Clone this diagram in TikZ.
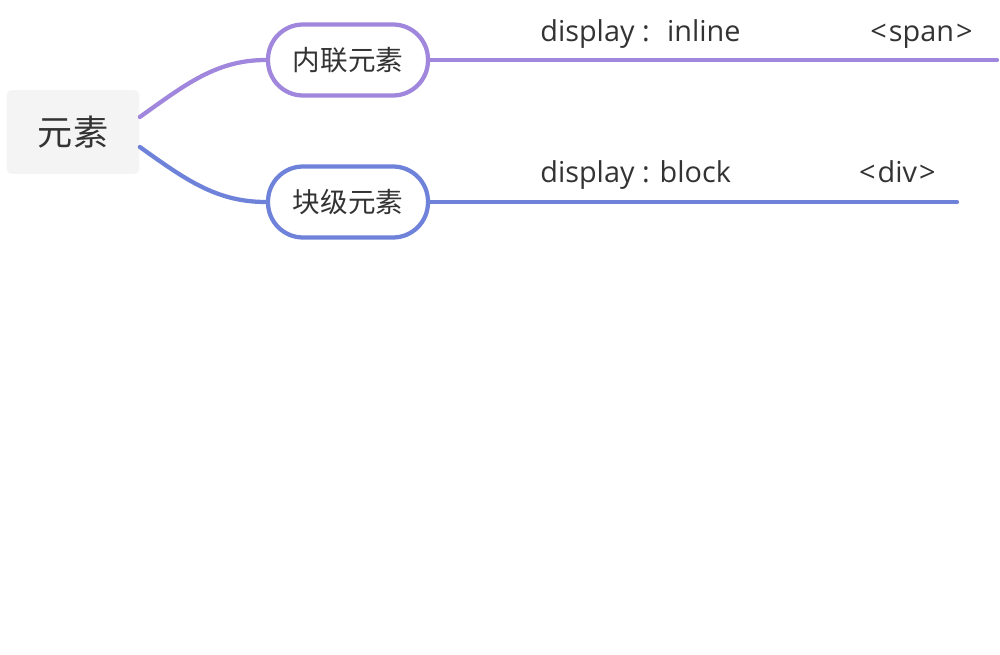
\documentclass[tikz,border=0pt]{standalone}
\usepackage{xcolor}
\usepackage{fontspec}
\setmainfont{Open Sans}
\newfontfamily\cjk{Noto Sans CJK SC}
\definecolor{inlinec}{RGB}{160,134,220}
\definecolor{blockc}{RGB}{111,130,217}
\definecolor{rootbg}{RGB}{244,244,244}
\definecolor{txt}{RGB}{51,51,51}
\usepackage{tikz}
\usetikzlibrary{positioning, calc}

\tikzset{
    rootbox/.style={fill=rootbg, rounded corners=3pt, minimum width=2.66cm, minimum height=1.68cm, text=txt, font=\cjk\fontsize{20}{24}\selectfont},
    pill/.style={draw, line width=0.085cm, fill=white, rounded corners=0.7cm, minimum width=3.2cm, minimum height=1.42cm, text=txt, font=\cjk\fontsize{15.7}{18}\selectfont},
    branch/.style={line width=0.085cm, line cap=round},
    label/.style={inner sep=0pt, text=txt, font=\fontsize{16.4}{19}\selectfont}
}

\begin{document}
\begin{tikzpicture}[x=0.02cm, y=-0.02cm]
    \useasboundingbox (0,0) rectangle (1000,655);

    \node[rootbox] (root) at (73,132) {元素};

    \node[pill, draw=inlinec] (inl) at (348,60) {内联元素};
    \node[pill, draw=blockc] (blk) at (348,202) {块级元素};

    \coordinate (inlend) at (997,60);
    \coordinate (blkend) at (957,202);

    \draw[branch, inlinec] ([yshift=0.3cm]root.east) .. controls +(45,-32) and +(-50,0) .. (inl.west);
    \draw[branch, blockc] ([yshift=-0.3cm]root.east) .. controls +(45,32) and +(-50,0) .. (blk.west);

    \draw[branch, inlinec] (inl.east) -- (inlend);
    \draw[branch, blockc] (blk.east) -- (blkend);

    \node[label, anchor=base west] (inltext) at (540,42) {display :~ inline};
    \node[label, anchor=base east] (span) at (973,42) {<\kern1.2pt span\kern1.2pt>};
    \node[label, anchor=base west] (blktext) at (540,183) {display : block};
    \node[label, anchor=base east] (div) at (936,183) {<\kern1.2pt div\kern1.2pt>};
\end{tikzpicture}
\end{document}
